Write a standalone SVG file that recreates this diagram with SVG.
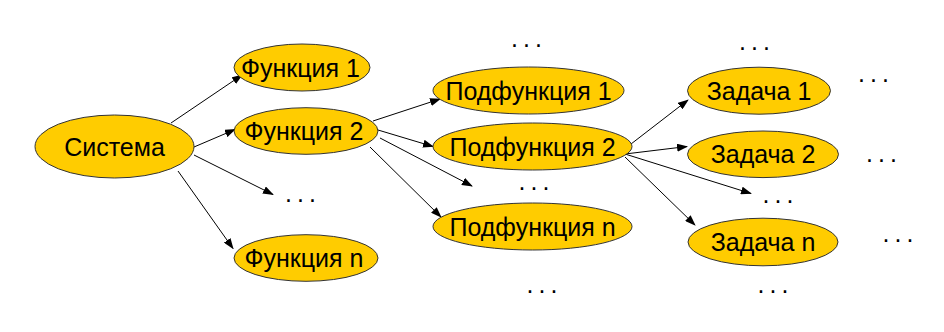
<svg xmlns="http://www.w3.org/2000/svg" width="944" height="332" viewBox="0 0 944 332">
<defs>
<marker id="ah" markerWidth="11" markerHeight="8" refX="10" refY="4" orient="auto" markerUnits="userSpaceOnUse">
<path d="M0,0 L11,4 L0,8 Z" fill="#000"/>
</marker>
<style>
.n ellipse{fill:#FFCC00;stroke:#333;stroke-width:1}
.n text{font-family:"Liberation Sans",Arial,sans-serif;font-size:25px;fill:#000;text-anchor:middle}
.d{font-family:"Liberation Sans",Arial,sans-serif;font-size:25px;letter-spacing:-0.9px;fill:#000;text-anchor:middle}
#edges line{stroke:#000;stroke-width:1;marker-end:url(#ah)}
</style>
</defs>
<rect width="944" height="332" fill="#fff"/>
<g id="edges">
<line x1="171" y1="123" x2="242" y2="75"/>
<line x1="194" y1="147" x2="235" y2="129.5"/>
<line x1="194" y1="155" x2="273" y2="194.5"/>
<line x1="178" y1="171" x2="233" y2="248.5"/>
<line x1="373" y1="121" x2="440" y2="99"/>
<line x1="378" y1="130" x2="433" y2="146.5"/>
<line x1="380" y1="138" x2="472" y2="186"/>
<line x1="370" y1="147" x2="441" y2="217"/>
<line x1="631" y1="144" x2="688" y2="100"/>
<line x1="625" y1="154" x2="687" y2="146.5"/>
<line x1="625" y1="154" x2="751" y2="193.5"/>
<line x1="625" y1="157" x2="695" y2="225"/>
</g>
<g id="sistema" class="n"><ellipse cx="114.5" cy="146.5" rx="79.5" ry="31.5"/><text x="114.5" y="155.5">Система</text></g>
<g id="f1" class="n"><ellipse cx="302" cy="67.5" rx="68" ry="23.5"/><text x="300.5" y="76.5">Функция 1</text></g>
<g id="f2" class="n"><ellipse cx="306" cy="131" rx="72" ry="23.3"/><text x="304" y="140">Функция 2</text></g>
<g id="fn" class="n"><ellipse cx="306" cy="258" rx="72" ry="23.3"/><text x="304" y="267">Функция n</text></g>
<g id="p1" class="n"><ellipse cx="528.5" cy="90.5" rx="95.5" ry="23.5"/><text x="528.5" y="99.5">Подфункция 1</text></g>
<g id="p2" class="n"><ellipse cx="532.5" cy="146.5" rx="99.5" ry="23.5"/><text x="532.5" y="155.5">Подфункция 2</text></g>
<g id="pn" class="n"><ellipse cx="532.5" cy="226.5" rx="99.5" ry="23.5"/><text x="532.5" y="235.5">Подфункция n</text></g>
<g id="z1" class="n"><ellipse cx="759" cy="90.7" rx="71.5" ry="23.5"/><text x="759" y="99.7">Задача 1</text></g>
<g id="z2" class="n"><ellipse cx="763" cy="154.3" rx="75.5" ry="23.3"/><text x="763" y="163.3">Задача 2</text></g>
<g id="zn" class="n"><ellipse cx="763" cy="242" rx="75" ry="23.8"/><text x="763" y="251">Задача n</text></g>
<g id="dots">
<text class="d" x="300" y="202">. . .</text>
<text class="d" x="526" y="46.5">. . .</text>
<text class="d" x="533.5" y="189.5">. . .</text>
<text class="d" x="541.5" y="293">. . .</text>
<text class="d" x="754" y="49.5">. . .</text>
<text class="d" x="873" y="82">. . .</text>
<text class="d" x="881" y="162">. . .</text>
<text class="d" x="777.5" y="203">. . .</text>
<text class="d" x="897.5" y="241.5">. . .</text>
<text class="d" x="772.5" y="293">. . .</text>
</g>
</svg>
